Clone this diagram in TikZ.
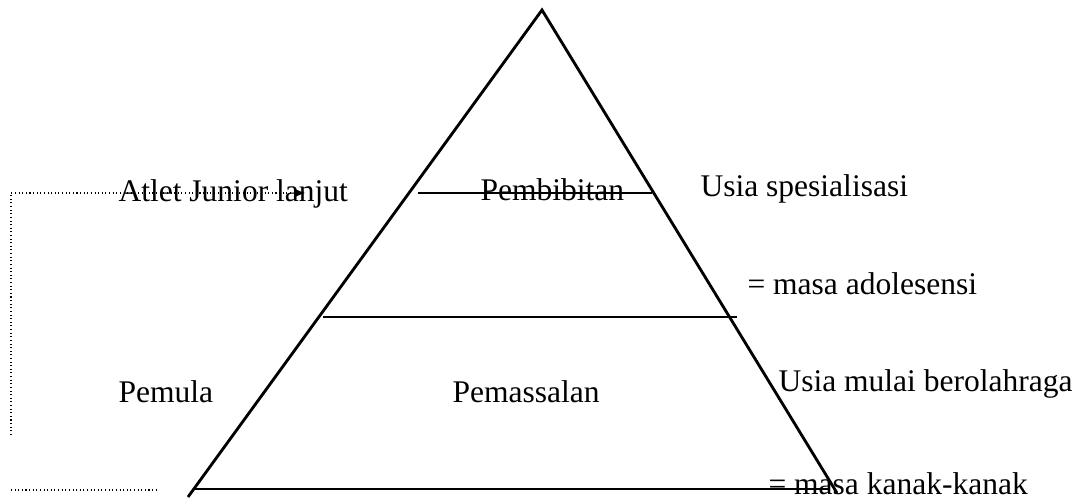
\documentclass[tikz,border=0pt]{standalone}
\usepackage{fontspec}
\setmainfont{Liberation Serif}
\usetikzlibrary{arrows.meta}

\begin{document}
\begin{tikzpicture}[font=\fontsize{12.2}{14}\selectfont, x=0.387pt, y=-0.387pt]
%% one unit is one pixel of the original drawing, y grows downwards
\tikzstyle{level}=[line width=1.1pt]
\tikzstyle{link}=[densely dotted,line width=0.4pt]
\tikzstyle{tag}=[anchor=base west,inner sep=0pt]
\useasboundingbox (0,0) rectangle (1085,502);
%% pyramid corners %%
\coordinate (Apex) at (542,10);
\coordinate (BaseLeft) at (188,497);
\coordinate (BaseRight) at (837,493);
\draw[level] (BaseLeft) -- (Apex) -- (BaseRight);
%% level lines
\coordinate (TopL) at (418,193);
\coordinate (TopR) at (652,193);
\coordinate (MidL) at (323,317);
\coordinate (MidR) at (737,317);
\coordinate (BotL) at (195,489);
\coordinate (BotR) at (830,489);
%% labels
\node[tag] at (118,202) (Junior) {Atlet Junior lanjut};
\node[tag] at (480,201) (Pembibitan) {Pembibitan};
\node[tag] at (700,197) (Spesial) {Usia spesialisasi};
\node[tag] at (747,295) (Adolesensi) {= masa adolesensi};
\node[tag] at (118,403) (Pemula) {Pemula};
\node[tag] at (452,403) (Pemassalan) {Pemassalan};
\node[tag] at (778,392) (Mulai) {Usia mulai berolahraga};
\node[tag] at (768,495) (Kanak) {= masa kanak-kanak};
\draw[level] (TopL) -- (TopR);
\draw[level] (MidL) -- (MidR);
\draw[level] (BotL) -- (BotR);
%% dotted bracket on the left
\coordinate (LinkLow) at (11,435);
\coordinate (LinkCorner) at (11,193);
\coordinate (LinkEnd) at (305,193);
\draw[link,-{Latex[length=4pt,width=3.5pt]}] (LinkLow) -- (LinkCorner) -- (LinkEnd);
\coordinate (FootL) at (11,490);
\coordinate (FootR) at (158,490);
\draw[link] (FootL) -- (FootR);
\end{tikzpicture}
\end{document}
